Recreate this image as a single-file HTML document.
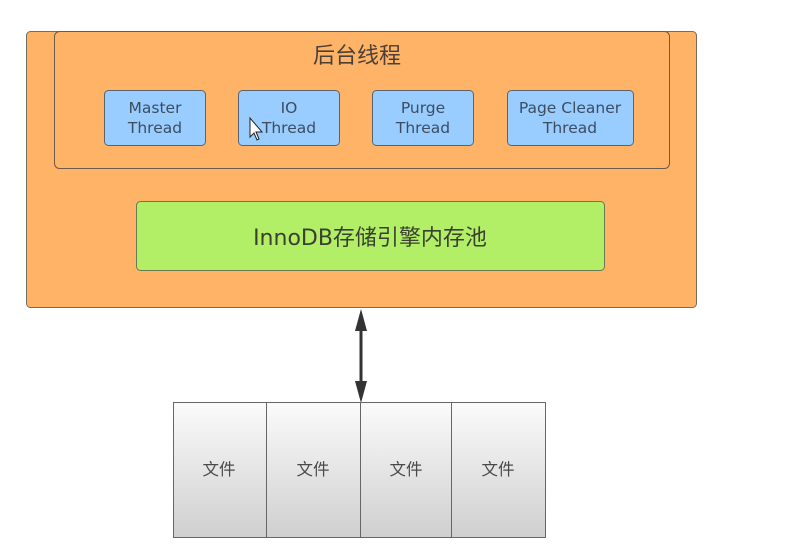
<!DOCTYPE html>
<html><head><meta charset="utf-8"><style>
html,body{margin:0;padding:0;background:#fff;}
svg{display:block;}
text{font-family:"DejaVu Sans","Noto Sans CJK SC",sans-serif;}
</style></head><body>
<svg width="804" height="544" viewBox="0 0 804 544" xmlns="http://www.w3.org/2000/svg">
<defs>
<linearGradient id="g" x1="0" y1="0" x2="0" y2="1">
<stop offset="0" stop-color="#fbfbfb"/>
<stop offset="1" stop-color="#cfcfcf"/>
</linearGradient>
</defs>
<rect x="26.5" y="31.5" width="670" height="276" rx="4" fill="#ffb366" stroke="#7a6a58" stroke-width="1"/>
<rect x="54.5" y="31.5" width="615" height="137" rx="5" fill="#ffb366" stroke="#6e5a48" stroke-width="1"/>
<text x="357" y="63" font-size="22" text-anchor="middle" fill="#4a4038" style="font-family:'Noto Sans CJK SC',sans-serif">后台线程</text>
<g stroke="#5a6470" stroke-width="1" fill="#99ccff">
<rect x="104.5" y="90.5" width="101" height="55" rx="4"/>
<rect x="238.5" y="90.5" width="101" height="55" rx="4"/>
<rect x="372.5" y="90.5" width="101" height="55" rx="4"/>
<rect x="507.5" y="90.5" width="126" height="55" rx="4"/>
</g>
<g font-size="15.5" text-anchor="middle" fill="#3d4d60">
<text x="155" y="113">Master</text><text x="155" y="133">Thread</text>
<text x="289" y="113">IO</text><text x="289" y="133">Thread</text>
<text x="423" y="113">Purge</text><text x="423" y="133">Thread</text>
<text x="570" y="113">Page Cleaner</text><text x="570" y="133">Thread</text>
</g>
<path d="M250 118 L250 137 L254 133 L257 140 L259 139 L256 132 L262 132 Z" fill="#fff" stroke="#222" stroke-width="1"/>
<rect x="136.5" y="201.5" width="468" height="69" rx="4" fill="#b3ef66" stroke="#6a7a50" stroke-width="1"/>
<text x="370" y="245" font-size="22" text-anchor="middle" fill="#3a4030">InnoDB存储引擎内存池</text>
<line x1="361" y1="325" x2="361" y2="386" stroke="#333" stroke-width="3"/>
<path d="M361 309 L355 331 L367 331 Z" fill="#333"/>
<path d="M361 403 L355 381 L367 381 Z" fill="#333"/>
<g stroke="#666" stroke-width="1" fill="url(#g)">
<rect x="173.5" y="402.5" width="93" height="135"/>
<rect x="266.5" y="402.5" width="94" height="135"/>
<rect x="360.5" y="402.5" width="91" height="135"/>
<rect x="451.5" y="402.5" width="94" height="135"/>
</g>
<g font-size="16.5" text-anchor="middle" fill="#4a4a4a">
<text x="219" y="475">文件</text>
<text x="313" y="475">文件</text>
<text x="406" y="475">文件</text>
<text x="498" y="475">文件</text>
</g>
</svg>
</body></html>
